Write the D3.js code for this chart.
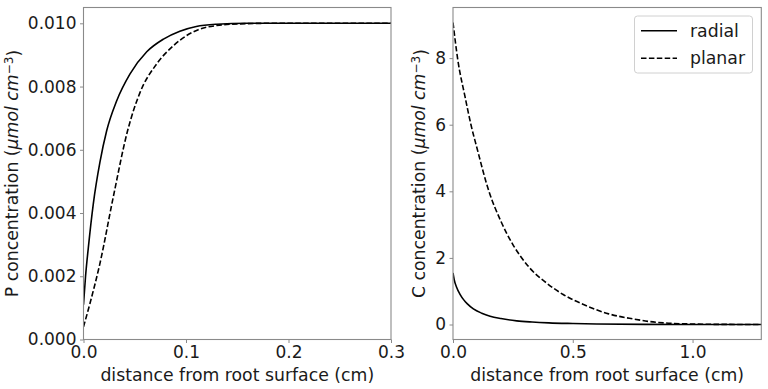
<!DOCTYPE html>
<html>
<head>
<meta charset="utf-8">
<script src="https://cdn.jsdelivr.net/npm/d3@7"></script>
<style>
  html, body { margin: 0; padding: 0; background: #fff; }
  svg { display: block; font-family: "DejaVu Sans", sans-serif; }
</style>
</head>
<body>
<svg id="chart" width="768" height="389"></svg>
<script>
// ---- data ----
const pRadialX = [0, 0.002, 0.0047, 0.0096, 0.016, 0.0226, 0.0324, 0.0454, 0.0617, 0.078, 0.094, 0.11, 0.13, 0.16, 0.3];
const pRadialY = [0.0011, 0.0020, 0.0029, 0.0043, 0.0056, 0.0066, 0.00755, 0.0084, 0.0091, 0.0095, 0.00975, 0.0099, 0.00997, 0.0100, 0.0100];
const pPlanarX = [0, 0.0063, 0.016, 0.029, 0.043, 0.055, 0.071, 0.088, 0.10, 0.112, 0.13, 0.15, 0.18, 0.3];
const pPlanarY = [0.0004, 0.00114, 0.0024, 0.0045, 0.0066, 0.0078, 0.0087, 0.0093, 0.0096, 0.0098, 0.00993, 0.00998, 0.0100, 0.0100];

const cRadialX = [0, 0.005, 0.015, 0.03, 0.045, 0.06, 0.085, 0.12, 0.155, 0.2, 0.266, 0.33, 0.4, 0.5, 0.6, 0.8, 1.0, 1.29];
const cRadialY = [1.55, 1.35, 1.12, 0.9, 0.74, 0.62, 0.47, 0.34, 0.25, 0.18, 0.11, 0.075, 0.05, 0.03, 0.015, 0.005, 0.0, 0.0];
const cPlanarX = [0, 0.02, 0.05, 0.075, 0.1, 0.15, 0.2, 0.25, 0.287, 0.32, 0.39, 0.46, 0.545, 0.65, 0.75, 0.82, 0.9, 1.0, 1.1, 1.29];
const cPlanarY = [9.07, 7.95, 6.85, 6.0, 5.3, 4.0, 3.1, 2.4, 2.0, 1.7, 1.25, 0.9, 0.6, 0.32, 0.17, 0.09, 0.04, 0.015, 0.005, 0.0];

const leftXTicks = [0, 0.1, 0.2, 0.3];
const leftYTicks = [0, 0.002, 0.004, 0.006, 0.008, 0.010];
const rightXTicks = [0, 0.5, 1.0];
const rightYTicks = [0, 2, 4, 6, 8];
const seriesNames = ["radial", "planar"];
const xLabel = "distance from root surface (cm)";

// ---- layout ----
const svg = d3.select("#chart");
const FS = 17.3;
const TFS = 17;
const spineColor = "#8a8a8a";

function zip(xs, ys) { return xs.map((x, i) => [x, ys[i]]); }

function panel(opts) {
  const { id, x, y, xTicks, yTicks, xFmt, yFmt, series, yLabelPrefix, yLabelX } = opts;
  const [x0, x1] = x.range();
  const [y1, y0] = y.range();
  const g = svg.append("g");

  g.append("clipPath").attr("id", id)
    .append("rect").attr("x", x0).attr("y", y0).attr("width", x1 - x0).attr("height", y1 - y0);

  const ax = g.append("g").attr("transform", `translate(0,${y1})`)
    .call(d3.axisBottom(x).tickValues(xTicks).tickFormat(xFmt).tickSize(3.5).tickPadding(3));
  const ay = g.append("g").attr("transform", `translate(${x0},0)`)
    .call(d3.axisLeft(y).tickValues(yTicks).tickFormat(yFmt).tickSize(3.5).tickPadding(3.5));
  [ax, ay].forEach(a => {
    a.select(".domain").remove();
    a.selectAll(".tick line").attr("stroke", spineColor).attr("stroke-width", 1);
    a.selectAll(".tick text").attr("fill", "#1a1a1a").style("font-size", TFS + "px")
      .style("font-family", '"DejaVu Sans", sans-serif');
  });
  ax.selectAll(".tick text").attr("dy", "0.72em");

  const line = d3.line().x(d => x(d[0])).y(d => y(d[1])).curve(d3.curveMonotoneX);
  series.forEach(s => {
    g.append("path").datum(s.data)
      .attr("clip-path", `url(#${id})`)
      .attr("fill", "none").attr("stroke", "#000").attr("stroke-width", 1.6)
      .attr("stroke-dasharray", s.dash ? "5.5,2.4" : null)
      .attr("d", line);
  });

  g.append("rect").attr("x", x0).attr("y", y0).attr("width", x1 - x0).attr("height", y1 - y0)
    .attr("fill", "none").attr("stroke", spineColor).attr("stroke-width", 1.1);

  g.append("text").attr("x", (x0 + x1) / 2).attr("y", 381)
    .attr("text-anchor", "middle").attr("fill", "#1a1a1a").style("font-size", FS + "px")
    .text(xLabel);

  const yl = g.append("text")
    .attr("transform", `translate(${yLabelX},${(y0 + y1) / 2}) rotate(-90)`)
    .attr("text-anchor", "middle").attr("fill", "#1a1a1a").style("font-size", FS + "px");
  yl.append("tspan").text(yLabelPrefix + " concentration (");
  yl.append("tspan").style("font-style", "italic").text("μmol cm");
  yl.append("tspan").attr("dy", "-0.45em").style("font-size", (FS * 0.7) + "px").text("−3");
  yl.append("tspan").attr("dy", "0.45em").text(")");
  return g;
}

const xL = d3.scaleLinear().domain([0, 0.3]).range([83.5, 391]);
const yL = d3.scaleLinear().domain([0, 0.0105]).range([339.5, 7.5]);
panel({
  id: "clipL", x: xL, y: yL, xTicks: leftXTicks, yTicks: leftYTicks,
  xFmt: d3.format(".1f"), yFmt: d3.format(".3f"),
  series: [
    { data: zip(pRadialX, pRadialY), dash: false },
    { data: zip(pPlanarX, pPlanarY), dash: true }
  ],
  yLabelPrefix: "P", yLabelX: 18
});

const xR = d3.scaleLinear().domain([0, 1.287]).range([453, 761.3]);
const yR = d3.scaleLinear().domain([-0.45, 9.52]).range([339.5, 7.5]);
panel({
  id: "clipR", x: xR, y: yR, xTicks: rightXTicks, yTicks: rightYTicks,
  xFmt: d3.format(".1f"), yFmt: d3.format("d"),
  series: [
    { data: zip(cRadialX, cRadialY), dash: false },
    { data: zip(cPlanarX, cPlanarY), dash: true }
  ],
  yLabelPrefix: "C", yLabelX: 425
});

const lg = svg.append("g");
lg.append("rect").attr("x", 634.5).attr("y", 16).attr("width", 118).attr("height", 57)
  .attr("rx", 3).attr("fill", "#fff").attr("stroke", "#d0d0d0").attr("stroke-width", 1);
seriesNames.forEach((name, i) => {
  const cy = 30.7 + i * 27.6;
  lg.append("line").attr("x1", 641).attr("x2", 677).attr("y1", cy).attr("y2", cy)
    .attr("stroke", "#000").attr("stroke-width", 1.6)
    .attr("stroke-dasharray", i === 1 ? "5.5,2.4" : null);
  lg.append("text").attr("x", 690).attr("y", cy).attr("dy", "0.35em")
    .attr("fill", "#1a1a1a").style("font-size", FS + "px").text(name);
});
</script>
</body>
</html>
